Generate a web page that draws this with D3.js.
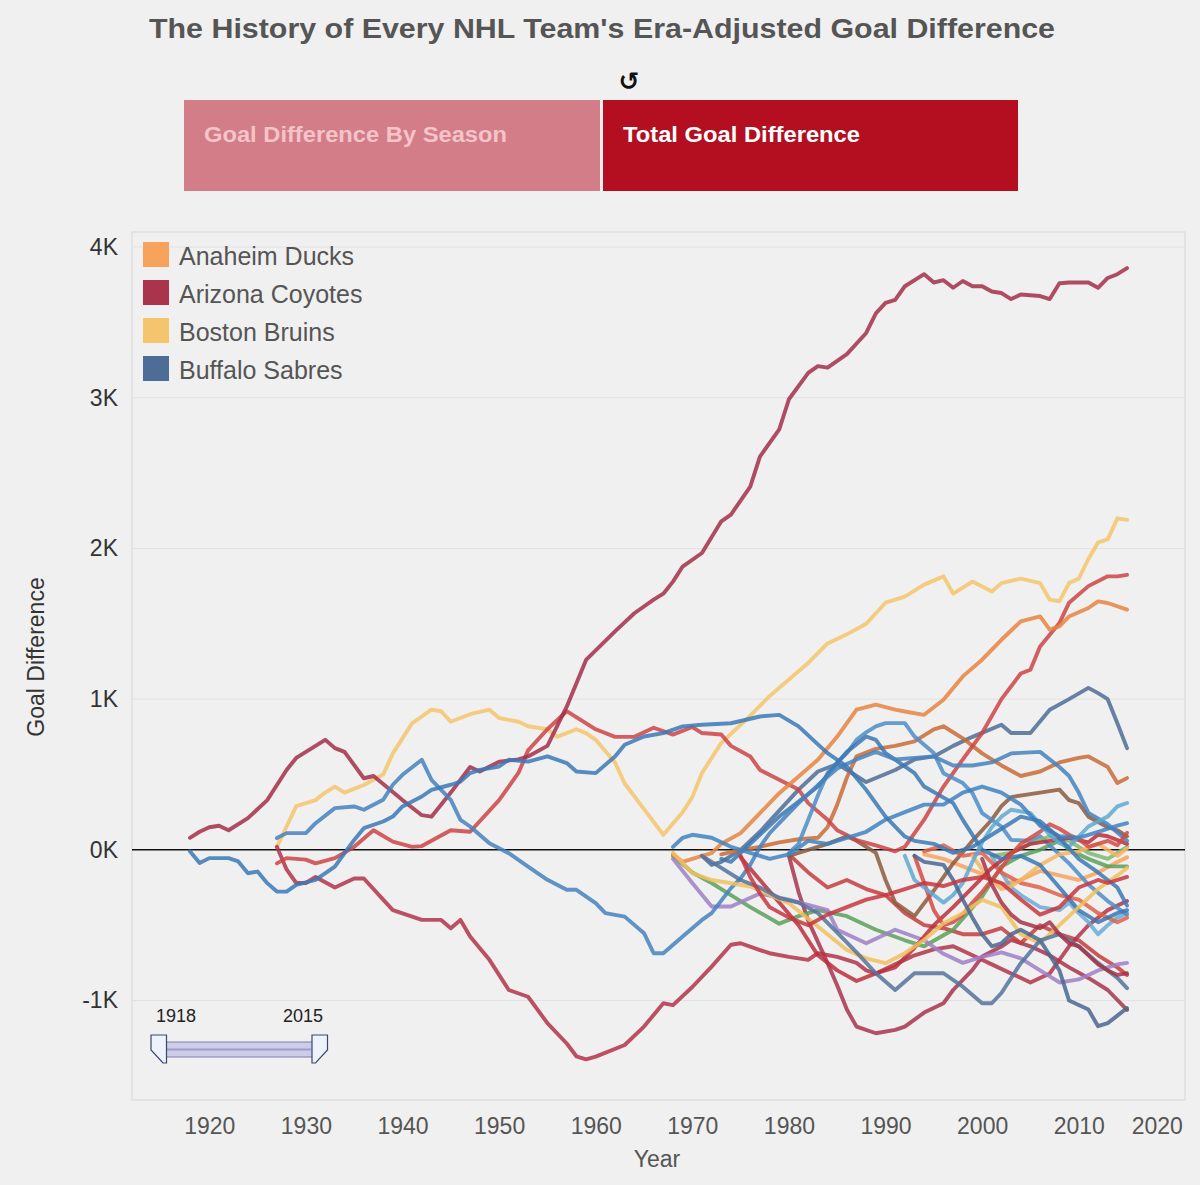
<!DOCTYPE html>
<html>
<head>
<meta charset="utf-8">
<title>NHL Era-Adjusted Goal Difference</title>
<script src="https://cdn.jsdelivr.net/npm/d3@7"></script>
<style>
    body { margin: 0; background: #f0f0f0; font-family: "Liberation Sans", Arial, sans-serif; }
</style>
</head>
<body>
<div id="chart-area"></div>
<script>

// teams in legend order (alphabetical)
const teams = ["Anaheim Ducks", "Arizona Coyotes", "Boston Bruins", "Buffalo Sabres", "Calgary Flames",
    "Carolina Hurricanes", "Chicago Blackhawks", "Colorado Avalanche", "Columbus Blue Jackets", "Dallas Stars",
    "Detroit Red Wings", "Edmonton Oilers", "Florida Panthers", "Los Angeles Kings", "Minnesota Wild",
    "Montreal Canadiens", "Nashville Predators", "New Jersey Devils", "New York Islanders", "New York Rangers",
    "Ottawa Senators", "Philadelphia Flyers", "Pittsburgh Penguins", "San Jose Sharks", "St. Louis Blues",
    "Tampa Bay Lightning", "Toronto Maple Leafs", "Vancouver Canucks", "Washington Capitals", "Winnipeg Jets"];

const teamColors = ["#f7a35c", "#a9344c", "#f4c56c", "#4e6d96", "#c96b36",
    "#c63c3e", "#b3344a", "#8d5b3f", "#6aaad6", "#5aa05a",
    "#cd4447", "#4d8dc7", "#e0604a", "#9d80c8", "#7cb870",
    "#a32f48", "#f5b562", "#bb2f3c", "#3a78b4", "#4682bd",
    "#d44a44", "#e8843f", "#f2bf5e", "#5ea9d2", "#3f83bf",
    "#4a668f", "#3b79b6", "#55739c", "#c8363f", "#a63446"];

// cumulative goal difference, [season, value]
const anaheim = [[1994,-30],[1996,-60],[1998,-110],[2000,-160],[2002,-230],[2004,-200],[2006,-140],[2008,-170],[2010,-200],[2012,-150],[2014,-80],[2015,-50]];
const arizona = [[1980,-40],[1981,-280],[1982,-470],[1984,-752],[1985,-900],[1986,-1060],[1987,-1173],[1989,-1217],[1991,-1195],[1992,-1173],[1994,-1080],[1996,-1018],[1997,-930],[1999,-797],[2000,-708],[2002,-642],[2003,-598],[2005,-640],[2007,-700],[2009,-780],[2011,-850],[2013,-930],[2015,-1062]];
const boston = [[1927,20],[1928,155],[1929,290],[1931,330],[1932,380],[1933,420],[1934,380],[1936,430],[1938,500],[1939,640],[1941,840],[1943,930],[1944,920],[1945,850],[1947,900],[1949,930],[1950,875],[1952,850],[1953,820],[1955,800],[1956,750],[1958,800],[1959,775],[1960,730],[1962,580],[1963,440],[1965,270],[1967,100],[1969,250],[1970,350],[1971,510],[1973,710],[1976,890],[1978,1020],[1980,1130],[1982,1240],[1984,1370],[1986,1430],[1988,1500],[1990,1640],[1992,1680],[1994,1760],[1996,1815],[1997,1700],[1999,1780],[2001,1715],[2002,1770],[2004,1800],[2006,1770],[2007,1660],[2008,1650],[2009,1770],[2010,1800],[2011,1930],[2012,2040],[2013,2060],[2014,2200],[2015,2190]];
const buffalo = [[1971,-40],[1972,-100],[1973,-80],[1975,0],[1977,120],[1979,260],[1981,400],[1983,520],[1985,570],[1987,490],[1988,450],[1991,530],[1993,600],[1995,620],[1997,690],[1999,750],[2002,830],[2003,775],[2005,775],[2007,930],[2009,1000],[2011,1075],[2012,1040],[2013,1000],[2014,840],[2015,675]];
const calgary = [[1973,-30],[1975,0],[1977,20],[1979,50],[1981,70],[1983,80],[1984,150],[1985,300],[1986,480],[1987,620],[1989,670],[1991,690],[1993,720],[1995,800],[1996,820],[1998,740],[2000,640],[2002,560],[2004,490],[2006,520],[2008,580],[2010,610],[2011,620],[2013,550],[2014,443],[2015,476]];
const carolina = [[1980,-30],[1982,-150],[1984,-250],[1986,-200],[1988,-260],[1990,-300],[1992,-420],[1994,-500],[1996,-520],[1998,-560],[2000,-560],[2002,-520],[2004,-620],[2006,-500],[2008,-560],[2010,-600],[2012,-700],[2014,-780],[2015,-830]];
const chicago = [[1927,20],[1928,-130],[1929,-220],[1930,-220],[1931,-180],[1933,-250],[1935,-190],[1936,-190],[1938,-330],[1939,-400],[1942,-465],[1944,-465],[1945,-520],[1946,-465],[1947,-575],[1949,-730],[1951,-930],[1953,-975],[1955,-1150],[1957,-1285],[1958,-1370],[1959,-1390],[1960,-1372],[1963,-1295],[1965,-1173],[1967,-1018],[1968,-1030],[1970,-910],[1972,-775],[1974,-630],[1975,-620],[1977,-665],[1978,-686],[1980,-710],[1982,-730],[1983,-686],[1985,-710],[1987,-750],[1988,-800],[1989,-820],[1991,-760],[1993,-700],[1995,-660],[1997,-640],[1999,-700],[2001,-760],[2003,-820],[2005,-880],[2007,-820],[2009,-640],[2011,-500],[2013,-400],[2015,-340]];
const colorado = [[1980,-40],[1982,0],[1984,40],[1986,90],[1987,60],[1989,-20],[1990,-200],[1991,-350],[1993,-440],[1995,-270],[1997,-90],[1999,60],[2001,200],[2002,290],[2003,350],[2006,380],[2008,400],[2009,330],[2010,310],[2011,220],[2013,150],[2014,130],[2015,90]];
const columbus = [[2001,-40],[2002,-150],[2003,-250],[2004,-300],[2006,-380],[2008,-400],[2009,-350],[2010,-420],[2011,-480],[2012,-560],[2013,-500],[2014,-450],[2015,-420]];
const dallas = [[1968,-40],[1970,-150],[1972,-220],[1974,-300],[1976,-380],[1979,-490],[1981,-440],[1983,-400],[1986,-440],[1989,-530],[1992,-600],[1994,-640],[1997,-530],[2000,-310],[2002,-110],[2004,-40],[2006,0],[2008,60],[2009,0],[2011,-60],[2013,-110],[2015,-110]];
const detroit = [[1927,-90],[1928,-55],[1930,-65],[1931,-90],[1933,-55],[1935,20],[1937,130],[1939,55],[1941,20],[1942,25],[1945,130],[1947,120],[1950,330],[1952,510],[1953,660],[1955,800],[1957,920],[1960,800],[1962,750],[1964,750],[1966,810],[1968,765],[1970,815],[1971,775],[1973,765],[1974,690],[1976,620],[1977,530],[1979,465],[1981,400],[1982,310],[1984,200],[1985,130],[1987,65],[1989,30],[1991,-10],[1992,20],[1994,200],[1996,420],[1998,600],[2000,775],[2002,1000],[2004,1170],[2005,1195],[2006,1350],[2008,1505],[2009,1640],[2011,1750],[2013,1815],[2014,1815],[2015,1825]];
const edmonton = [[1980,-20],[1981,40],[1982,200],[1983,360],[1984,509],[1985,580],[1986,642],[1987,730],[1988,780],[1989,819],[1990,841],[1992,841],[1993,752],[1995,642],[1996,509],[1998,443],[1999,376],[2000,244],[2002,155],[2003,66],[2005,60],[2006,90],[2007,30],[2009,-90],[2011,-230],[2013,-340],[2015,-430]];
const florida = [[1994,-10],[1996,30],[1998,-40],[2000,-20],[2002,-150],[2004,-220],[2006,-250],[2008,-300],[2010,-330],[2012,-420],[2014,-480],[2015,-450]];
const losAngeles = [[1968,-60],[1970,-220],[1972,-376],[1974,-376],[1977,-290],[1980,-330],[1984,-400],[1985,-530],[1988,-620],[1991,-530],[1994,-600],[1996,-690],[1998,-750],[2000,-710],[2002,-680],[2004,-720],[2006,-800],[2008,-880],[2010,-860],[2012,-800],[2014,-760],[2015,-750]];
const minnesota = [[2001,-40],[2003,-20],[2005,40],[2007,90],[2009,60],[2011,-20],[2013,-60],[2015,20]];
const montreal = [[1918,80],[1919,120],[1920,150],[1921,160],[1922,130],[1924,210],[1926,330],[1928,530],[1929,610],[1932,730],[1933,675],[1934,650],[1936,475],[1937,490],[1940,330],[1942,230],[1943,220],[1945,380],[1947,550],[1948,520],[1950,585],[1952,600],[1953,620],[1955,690],[1957,950],[1959,1260],[1962,1450],[1964,1570],[1966,1660],[1967,1700],[1968,1780],[1969,1880],[1971,1970],[1973,2180],[1974,2225],[1976,2410],[1977,2610],[1979,2790],[1980,2990],[1982,3165],[1983,3210],[1984,3200],[1986,3290],[1988,3430],[1989,3560],[1990,3630],[1991,3650],[1992,3740],[1994,3820],[1995,3765],[1996,3780],[1997,3730],[1998,3775],[1999,3740],[2000,3740],[2001,3705],[2002,3695],[2003,3655],[2004,3685],[2006,3675],[2007,3655],[2008,3760],[2009,3765],[2011,3765],[2012,3730],[2013,3795],[2014,3820],[2015,3860]];
const nashville = [[1999,-40],[2000,-130],[2001,-200],[2002,-260],[2003,-240],[2004,-200],[2006,-100],[2008,-30],[2010,-10],[2012,40],[2013,0],[2014,-40],[2015,10]];
const newJersey = [[1975,-50],[1977,-200],[1979,-350],[1981,-500],[1983,-700],[1985,-800],[1987,-870],[1989,-820],[1991,-780],[1993,-650],[1995,-500],[1997,-380],[1999,-250],[2001,-120],[2003,-20],[2005,40],[2007,60],[2009,80],[2011,50],[2012,100],[2013,90],[2015,40]];
const islanders = [[1973,-60],[1974,-80],[1975,-20],[1977,100],[1979,221],[1981,320],[1983,420],[1985,576],[1986,650],[1988,752],[1989,730],[1990,642],[1991,598],[1993,509],[1994,420],[1997,310],[1998,199],[2000,0],[2002,-60],[2004,-40],[2006,-100],[2008,-250],[2010,-400],[2012,-480],[2014,-420],[2015,-400]];
const rangers = [[1927,78],[1928,111],[1930,111],[1931,177],[1933,277],[1935,288],[1936,266],[1938,332],[1939,432],[1940,498],[1942,598],[1943,465],[1945,332],[1946,199],[1947,155],[1949,44],[1951,-22],[1953,-111],[1955,-199],[1957,-265],[1958,-265],[1960,-354],[1961,-420],[1963,-443],[1965,-553],[1966,-686],[1967,-686],[1969,-575],[1971,-465],[1972,-420],[1974,-254],[1975,-190],[1976,-100],[1977,20],[1978,110],[1979,177],[1981,310],[1983,430],[1985,540],[1987,600],[1989,650],[1991,600],[1993,610],[1995,620],[1997,560],[1999,560],[2001,580],[2003,640],[2006,650],[2008,550],[2009,490],[2010,380],[2011,245],[2013,170],[2015,60]];
const ottawa = [[1993,-40],[1994,-220],[1995,-400],[1996,-500],[1997,-480],[1998,-430],[1999,-350],[2000,-280],[2001,-200],[2002,-120],[2003,-30],[2004,40],[2006,120],[2007,170],[2008,140],[2009,100],[2010,70],[2011,20],[2012,40],[2013,60],[2014,30],[2015,113]];
const philadelphia = [[1968,-30],[1969,-80],[1970,-60],[1971,-40],[1972,-22],[1973,40],[1975,111],[1977,244],[1979,376],[1981,487],[1983,598],[1985,752],[1987,930],[1989,963],[1991,930],[1992,918],[1994,896],[1996,996],[1998,1151],[2000,1262],[2002,1394],[2004,1516],[2006,1549],[2007,1461],[2008,1483],[2009,1549],[2011,1605],[2012,1649],[2013,1638],[2015,1594]];
const pittsburgh = [[1968,-20],[1970,-155],[1972,-200],[1976,-243],[1980,-354],[1983,-509],[1986,-664],[1988,-720],[1990,-752],[1992,-686],[1994,-598],[1996,-487],[1998,-420],[2000,-332],[2002,-380],[2004,-560],[2006,-620],[2008,-500],[2010,-380],[2012,-260],[2014,-170],[2015,-120]];
const sanJose = [[1992,-40],[1993,-200],[1994,-250],[1996,-350],[1997,-300],[1998,-220],[1999,-80],[2000,50],[2001,150],[2002,220],[2003,266],[2005,244],[2006,170],[2007,100],[2008,44],[2009,22],[2011,155],[2013,221],[2014,288],[2015,311]];
const stLouis = [[1968,20],[1969,80],[1970,100],[1972,80],[1974,20],[1976,-20],[1978,-60],[1980,-30],[1982,60],[1984,40],[1986,80],[1988,120],[1990,200],[1992,250],[1994,300],[1996,300],[1998,380],[2000,420],[2002,380],[2004,300],[2006,160],[2008,90],[2010,80],[2012,120],[2014,160],[2015,177]];
const tampaBay = [[1993,-40],[1994,-80],[1996,-100],[1997,-200],[1998,-330],[1999,-450],[2000,-560],[2001,-640],[2002,-620],[2003,-560],[2004,-530],[2006,-600],[2008,-800],[2009,-1000],[2011,-1060],[2012,-1170],[2013,-1150],[2014,-1100],[2015,-1050]];
const toronto = [[1918,-10],[1919,-88],[1920,-55],[1922,-55],[1923,-77],[1924,-155],[1925,-144],[1926,-221],[1927,-277],[1928,-277],[1929,-232],[1931,-199],[1933,-111],[1934,-22],[1935,66],[1936,144],[1938,188],[1939,221],[1940,288],[1942,354],[1943,398],[1945,432],[1946,453],[1947,509],[1948,531],[1950,553],[1951,598],[1953,586],[1955,620],[1957,576],[1958,520],[1960,509],[1962,620],[1963,697],[1965,752],[1967,775],[1969,819],[1971,830],[1974,840],[1977,885],[1979,896],[1981,819],[1983,700],[1984,642],[1986,553],[1988,398],[1990,221],[1992,88],[1993,60],[1995,40],[1997,-20],[1999,20],[2001,100],[2003,180],[2004,220],[2006,190],[2008,80],[2010,-60],[2012,-150],[2014,-250],[2015,-370]];
const vancouver = [[1971,-40],[1973,-120],[1975,-200],[1977,-250],[1979,-320],[1981,-350],[1983,-420],[1985,-550],[1987,-680],[1989,-819],[1991,-930],[1993,-819],[1996,-819],[1998,-908],[2000,-1018],[2001,-1018],[2002,-950],[2004,-752],[2006,-600],[2008,-560],[2010,-640],[2012,-750],[2014,-850],[2015,-918]];
const washington = [[1975,-40],[1976,-180],[1977,-290],[1978,-380],[1980,-450],[1982,-500],[1984,-430],[1986,-380],[1988,-330],[1990,-300],[1992,-260],[1994,-220],[1996,-240],[1998,-200],[2000,-180],[2002,-220],[2004,-330],[2006,-430],[2008,-380],[2010,-250],[2012,-200],[2013,-220],[2015,-180]];
const winnipeg = [[2000,-60],[2001,-230],[2002,-350],[2003,-430],[2004,-480],[2006,-520],[2007,-480],[2008,-560],[2009,-620],[2010,-640],[2011,-700],[2012,-760],[2013,-800],[2014,-830],[2015,-819]];

const teamSeries = [anaheim, arizona, boston, buffalo, calgary, carolina, chicago, colorado, columbus, dallas,
    detroit, edmonton, florida, losAngeles, minnesota, montreal, nashville, newJersey, islanders, rangers,
    ottawa, philadelphia, pittsburgh, sanJose, stLouis, tampaBay, toronto, vancouver, washington, winnipeg];

const yearTicks = [1920, 1930, 1940, 1950, 1960, 1970, 1980, 1990, 2000, 2010, 2020];
const valueTicks = [-1000, 0, 1000, 2000, 3000, 4000];
const sliderRange = [1918, 2015];


class GoalChart {

    constructor(parentElement) {
        this.parentElement = parentElement;
        this.initVis();
    }

    initVis() {
        let vis = this;

        vis.width = 1200;
        vis.height = 1185;
        vis.pane = {left: 132, right: 1185, top: 232, bottom: 1100};

        vis.svg = d3.select("#" + vis.parentElement)
            .append("svg")
            .attr("width", vis.width)
            .attr("height", vis.height)
            .style("font-family", "'Liberation Sans', Arial, sans-serif");

        vis.svg.append("rect")
            .attr("width", vis.width)
            .attr("height", vis.height)
            .attr("fill", "#f0f0f0");

        // title
        vis.svg.append("text")
            .attr("x", 602)
            .attr("y", 38)
            .attr("text-anchor", "middle")
            .attr("textLength", 906)
            .attr("lengthAdjust", "spacingAndGlyphs")
            .style("font-size", "27px")
            .style("font-weight", "bold")
            .attr("fill", "#555")
            .text("The History of Every NHL Team's Era-Adjusted Goal Difference");

        // reset icon
        vis.svg.append("text")
            .attr("x", 629)
            .attr("y", 90)
            .attr("text-anchor", "middle")
            .style("font-family", "'DejaVu Sans'")
            .style("font-size", "25px")
            .style("font-weight", "bold")
            .attr("fill", "#111")
            .text("\u21BA");

        // toggle buttons
        let buttons = [
            {label: "Goal Difference By Season", x: 184, w: 416, fill: "#d27d87", color: "#f4c4c9", len: 303},
            {label: "Total Goal Difference", x: 603, w: 415, fill: "#b30f20", color: "#ffffff", len: 237}
        ];
        let btn = vis.svg.selectAll(".btn").data(buttons).enter().append("g").attr("class", "btn");
        btn.append("rect")
            .attr("x", d => d.x).attr("y", 100)
            .attr("width", d => d.w).attr("height", 91)
            .attr("fill", d => d.fill);
        btn.append("text")
            .attr("x", d => d.x + 20).attr("y", 142)
            .attr("textLength", d => d.len)
            .attr("lengthAdjust", "spacingAndGlyphs")
            .style("font-size", "22px")
            .style("font-weight", "bold")
            .attr("fill", d => d.color)
            .text(d => d.label);

        // scales
        vis.x = d3.scaleLinear().domain([1912, 2021]).range([vis.pane.left, vis.pane.right]);
        vis.y = d3.scaleLinear().domain([-1660, 4100]).range([vis.pane.bottom, vis.pane.top]);

        // pane border
        vis.svg.append("rect")
            .attr("x", vis.pane.left).attr("y", vis.pane.top)
            .attr("width", vis.pane.right - vis.pane.left)
            .attr("height", vis.pane.bottom - vis.pane.top)
            .attr("fill", "none")
            .attr("stroke", "#d6d6d6");

        // gridlines
        vis.svg.selectAll(".grid")
            .data(valueTicks.filter(d => d !== 0))
            .enter().append("line")
            .attr("class", "grid")
            .attr("x1", vis.pane.left).attr("x2", vis.pane.right)
            .attr("y1", d => vis.y(d)).attr("y2", d => vis.y(d))
            .attr("stroke", "#e2e2e2");

        // axes
        let xAxis = d3.axisBottom(vis.x).tickValues(yearTicks).tickFormat(d3.format("d")).tickSize(0);
        let xg = vis.svg.append("g")
            .attr("transform", `translate(0, ${vis.pane.bottom})`)
            .call(xAxis);
        xg.select(".domain").remove();
        xg.selectAll("text")
            .attr("y", 34).attr("dy", 0)
            .style("font-size", "23px")
            .attr("fill", "#555")
            .style("font-family", "'Liberation Sans', Arial, sans-serif");
        // last label is pulled inside the pane
        xg.selectAll("text").filter(d => d === 2020)
            .attr("text-anchor", "end").attr("x", 7);

        let yAxis = d3.axisLeft(vis.y).tickValues(valueTicks).tickFormat(d => (d / 1000) + "K").tickSize(0).tickPadding(14);
        let yg = vis.svg.append("g")
            .attr("transform", `translate(${vis.pane.left}, 0)`)
            .call(yAxis);
        yg.select(".domain").remove();
        yg.selectAll("text")
            .style("font-size", "23px")
            .attr("fill", "#333")
            .style("font-family", "'Liberation Sans', Arial, sans-serif");

        vis.svg.append("text")
            .attr("x", 657).attr("y", 1167)
            .attr("text-anchor", "middle")
            .style("font-size", "23px")
            .attr("fill", "#555")
            .text("Year");

        vis.svg.append("text")
            .attr("transform", "translate(44, 657) rotate(-90)")
            .attr("text-anchor", "middle")
            .style("font-size", "23px")
            .attr("fill", "#333")
            .text("Goal Difference");

        // zero line
        vis.svg.append("line")
            .attr("x1", vis.pane.left).attr("x2", vis.pane.right)
            .attr("y1", vis.y(0)).attr("y2", vis.y(0))
            .attr("stroke", "#111")
            .attr("stroke-width", 1.5);

        vis.linesGroup = vis.svg.append("g");

        vis.wrangleData();
    }

    wrangleData() {
        let vis = this;
        vis.displayData = teams.map((t, i) => ({name: t, color: teamColors[i], values: teamSeries[i]}));
        vis.updateVis();
    }

    updateVis() {
        let vis = this;

        let line = d3.line()
            .x(d => vis.x(d[0]))
            .y(d => vis.y(d[1]));

        vis.linesGroup.selectAll("path")
            .data(vis.displayData)
            .enter().append("path")
            .attr("d", d => line(d.values))
            .attr("fill", "none")
            .attr("stroke", d => d.color)
            .attr("stroke-width", 3.9)
            .attr("stroke-opacity", 0.85)
            .attr("stroke-linejoin", "round")
            .attr("stroke-linecap", "round");

        // legend (only the first entries fit in the box)
        let legend = vis.svg.selectAll(".legend")
            .data(vis.displayData.slice(0, 4))
            .enter().append("g")
            .attr("class", "legend")
            .attr("transform", (d, i) => `translate(143, ${242 + i * 38})`);
        legend.append("rect")
            .attr("width", 26).attr("height", 25)
            .attr("fill", d => d.color);
        legend.append("text")
            .attr("x", 36).attr("y", 23)
            .style("font-size", "25px")
            .attr("fill", "#555")
            .text(d => d.name);

        // year range slider
        let slider = vis.svg.append("g");
        slider.selectAll(".slabel")
            .data(sliderRange)
            .enter().append("text")
            .attr("x", (d, i) => i === 0 ? 176 : 303)
            .attr("y", 1022)
            .attr("text-anchor", "middle")
            .style("font-size", "18px")
            .attr("fill", "#222")
            .text(d => d);
        slider.append("rect")
            .attr("x", 163).attr("y", 1042)
            .attr("width", 150).attr("height", 15)
            .attr("fill", "#cdcde9")
            .attr("stroke", "#7d7db0");
        slider.append("line")
            .attr("x1", 165).attr("x2", 311)
            .attr("y1", 1049.5).attr("y2", 1049.5)
            .attr("stroke", "#9d9dca")
            .attr("stroke-width", 2);
        slider.append("path")
            .attr("d", "M151,1035 H166.5 V1063 H163 L151,1050 Z")
            .attr("fill", "#eef2fa")
            .attr("stroke", "#3a4868")
            .attr("stroke-width", 1.2);
        slider.append("path")
            .attr("d", "M312,1035 H327.5 V1050 L315.5,1063 H312 Z")
            .attr("fill", "#eef2fa")
            .attr("stroke", "#3a4868")
            .attr("stroke-width", 1.2);
    }
}

new GoalChart("chart-area");

</script>
</body>
</html>
